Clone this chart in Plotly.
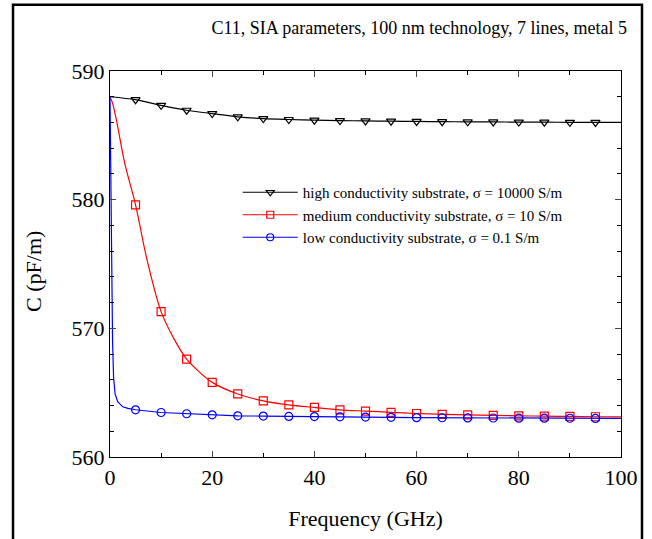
import plotly.graph_objects as go

# ---- data ----
marker_freq = [5, 10, 15, 20, 25, 30, 35, 40, 45, 50, 55, 60, 65, 70, 75, 80, 85, 90, 95]

high_mk = [587.77, 587.33, 586.95, 586.69, 586.44, 586.3, 586.23, 586.18, 586.15, 586.12,
           586.1, 586.08, 586.06, 586.05, 586.04, 586.03, 586.02, 586.01, 586.0]
med_mk = [579.6, 571.3, 567.6, 565.8, 564.9, 564.36, 564.05, 563.85, 563.67, 563.57,
          563.47, 563.38, 563.32, 563.27, 563.23, 563.2, 563.17, 563.15, 563.13]
low_mk = [563.67, 563.46, 563.36, 563.28, 563.2, 563.18, 563.15, 563.14, 563.12, 563.1,
          563.08, 563.06, 563.05, 563.04, 563.03, 563.02, 563.02, 563.01, 563.0]

high_line_f = [0, 5, 10, 15, 20, 25, 30, 35, 40, 45, 50, 55, 60, 65, 70, 75, 80, 85, 90, 95, 100]
high_line_v = [588.0] + high_mk + [586.0]

med_line_f = [0, 0.5, 1.3, 2.9, 5, 7.2, 10, 12.5, 15, 17.5, 20, 25, 30, 35, 40, 45, 50,
              55, 60, 65, 70, 75, 80, 85, 90, 95, 100]
med_line_v = [588.0, 587.5, 586.1, 582.8, 579.6, 575.4, 571.3, 569.2, 567.6, 566.6, 565.8,
              564.9, 564.36, 564.05, 563.85, 563.67, 563.57, 563.47, 563.38, 563.32, 563.27,
              563.23, 563.2, 563.17, 563.15, 563.13, 563.12]

low_line_f = [0, 0.1, 0.2, 0.35, 0.5, 0.7, 1.0, 1.5, 2.5, 3.5, 5, 10, 15, 20, 25, 30, 35,
              40, 45, 50, 55, 60, 65, 70, 75, 80, 85, 90, 95, 100]
low_line_v = [588.0, 583.0, 578.0, 573.5, 569.0, 566.2, 564.9, 564.3, 563.9, 563.78, 563.67,
              563.46, 563.36, 563.28, 563.2, 563.18, 563.15, 563.14, 563.12, 563.1, 563.08,
              563.06, 563.05, 563.04, 563.03, 563.02, 563.02, 563.01, 563.0, 563.0]

names = ["high conductivity substrate, \u03c3 = 10000 S/m",
         "medium conductivity substrate, \u03c3 = 10 S/m",
         "low conductivity substrate, \u03c3 = 0.1 S/m"]

x_ticks = [0, 20, 40, 60, 80, 100]
y_ticks = [560, 570, 580, 590]

FONT = "Liberation Serif, Times New Roman, serif"

series = [
    (high_line_f, high_line_v, high_mk, "black", "triangle-down-open", names[0], "spline"),
    (med_line_f, med_line_v, med_mk, "#ff0000", "square-open", names[1], "spline"),
    (low_line_f, low_line_v, low_mk, "#0000ff", "circle-open", names[2], "linear"),
]

fig = go.Figure()
for lf, lv, mk, col, sym, nm, shape in series:
    fig.add_trace(go.Scatter(x=lf, y=lv, mode="lines", line=dict(color=col, width=1.2, shape=shape,
                             smoothing=0.8), showlegend=False, hoverinfo="skip"))
    fig.add_trace(go.Scatter(x=marker_freq, y=mk, mode="markers",
                             marker=dict(symbol=sym, color=col, size=8, line=dict(width=1.2, color=col)),
                             showlegend=False))
for lf, lv, mk, col, sym, nm, shape in series:
    fig.add_trace(go.Scatter(x=[None], y=[None], mode="lines+markers", name=nm,
                             line=dict(color=col, width=1.2),
                             marker=dict(symbol=sym, color=col, size=7, line=dict(width=1.2, color=col))))

fig.update_layout(
    width=652, height=539,
    margin=dict(l=110, r=31, t=71, b=78),
    paper_bgcolor="white", plot_bgcolor="white",
    font=dict(family=FONT, color="black"),
    title=dict(text="C11, SIA parameters, 100 nm technology, 7 lines, metal 5",
               x=627 / 652, xanchor="right", xref="container",
               y=1 - 28 / 539, yanchor="middle", yref="container",
               font=dict(family=FONT, size=18, color="black")),
    xaxis=dict(range=[0, 100], tickvals=x_ticks, ticks="inside", ticklen=6, tickwidth=1,
               minor=dict(dtick=10, ticks="inside", ticklen=4, tickcolor="black"),
               showline=True, linecolor="black", linewidth=1.2, mirror="ticks",
               showgrid=False, zeroline=False, tickfont=dict(size=22, family=FONT),
               title=dict(text="Frequency (GHz)", font=dict(size=22, family=FONT), standoff=22)),
    yaxis=dict(range=[560, 590], tickvals=y_ticks, ticks="inside", ticklen=6, tickwidth=1,
               minor=dict(dtick=2, ticks="inside", ticklen=4, tickcolor="black"),
               showline=True, linecolor="black", linewidth=1.2, mirror="ticks",
               showgrid=False, zeroline=False, tickfont=dict(size=22, family=FONT)),
    annotations=[dict(text="C (pF/m)", xref="paper", yref="paper", x=(34 - 110) / 511,
                      y=(461 - 274) / 390, xanchor="center", yanchor="middle", textangle=-90,
                      showarrow=False, font=dict(size=22, family=FONT, color="black"))],
    legend=dict(x=0.25, y=0.728, xanchor="left", yanchor="top", bgcolor="rgba(0,0,0,0)",
                font=dict(size=15, family=FONT), itemwidth=55, tracegroupgap=0),
    shapes=[dict(type="rect", xref="paper", yref="paper", x0=-0.1898, x1=1.0411,
                 y0=-0.4, y1=1.1718, line=dict(color="black", width=2.5), layer="below")],
)

fig.write_html("out.html")
